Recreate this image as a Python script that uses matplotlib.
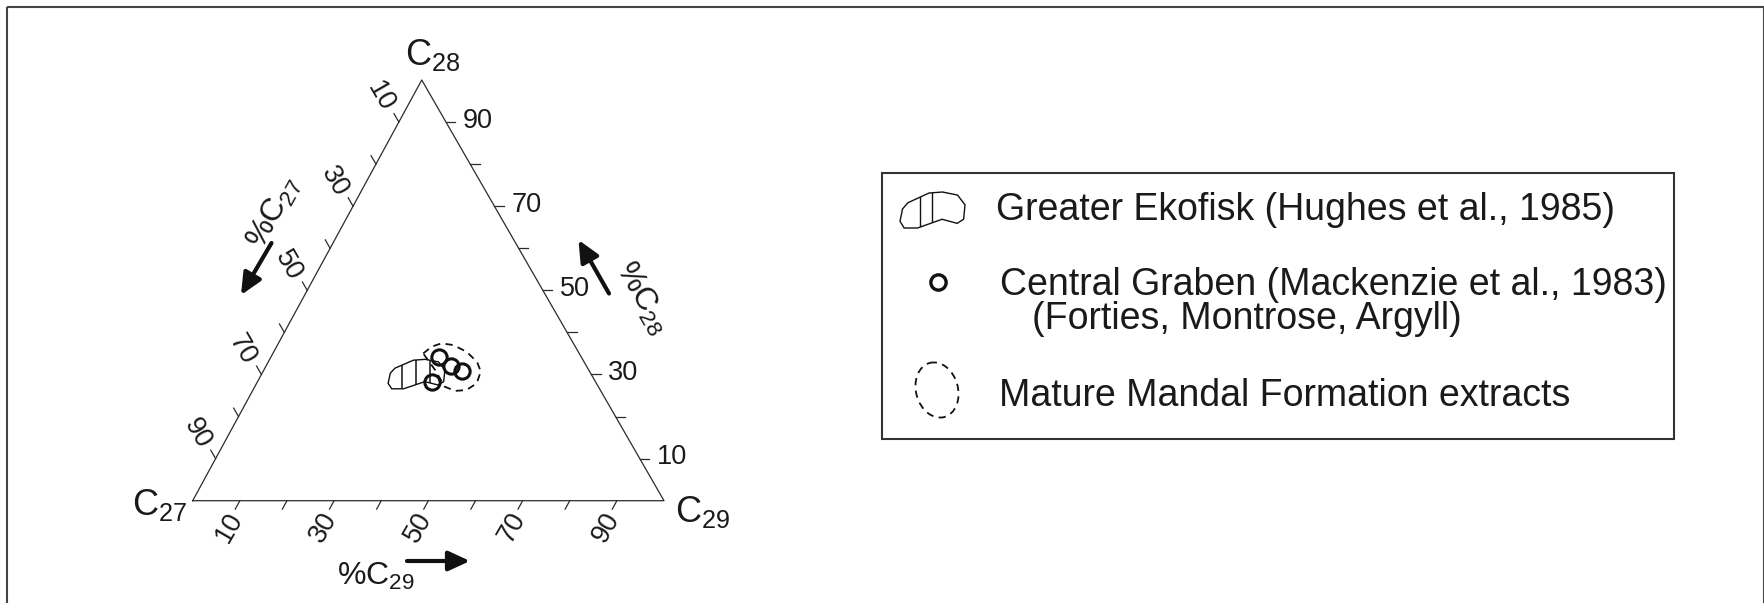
import numpy as np
import matplotlib
matplotlib.use("Agg")
import matplotlib.pyplot as plt
from matplotlib.patches import Polygon, Rectangle, Ellipse

plt.rcParams['font.family'] = ['Liberation Sans', 'DejaVu Sans']
plt.rcParams['mathtext.fontset'] = 'custom'
plt.rcParams['mathtext.rm'] = 'Liberation Sans'
plt.rcParams['mathtext.it'] = 'Liberation Sans:italic'

# ---- data (percent C27 / C28 / C29 steranes) ----
# Central Graben oils (Mackenzie et al., 1983)
cg_c27 = [30.1, 26.9, 34.7, 28.9]
cg_c28 = [34.2, 30.9, 28.1, 31.9]
cg_c29 = [35.7, 42.2, 37.2, 39.2]

# Greater Ekofisk field outline (Hughes et al., 1985)
ek_c27 = [42.5, 40.9, 36.0, 33.4, 30.9, 30.5, 32.2, 33.8, 36.2, 41.6, 44.1, 44.2]
ek_c28 = [30.3, 31.5, 33.4, 33.6, 33.0, 31.1, 28.3, 27.5, 28.3, 26.6, 26.6, 27.9]
ek_c29 = [27.2, 27.6, 30.6, 33.0, 36.1, 38.4, 39.5, 38.7, 35.5, 31.8, 29.3, 27.9]

# Mature Mandal Formation extracts outline
mm_c27 = [33.1, 30.5, 28.0, 25.7, 23.7, 22.7, 23.1, 25.4, 28.4, 30.9, 32.6, 32.6]
mm_c28 = [35.0, 36.6, 37.4, 37.0, 35.4, 33.0, 30.7, 27.9, 26.3, 26.1, 27.1, 31.1]
mm_c29 = [31.9, 32.9, 34.6, 37.3, 40.9, 44.3, 46.2, 46.7, 45.3, 43.0, 40.3, 36.3]

tick_vals = [10, 20, 30, 40, 50, 60, 70, 80, 90]
label_vals = [10, 30, 50, 70, 90]

legend_labels = ['Greater Ekofisk (Hughes et al., 1985)',
                 'Central Graben (Mackenzie et al., 1983)',
                 '(Forties, Montrose, Argyll)',
                 'Mature Mandal Formation extracts']

SKEW = 0.486  # apex sits slightly left of centre in the original drawing


def tern(c27, c28, c29):
    c27, c28, c29 = (np.asarray(v, float) for v in (c27, c28, c29))
    tot = c27 + c28 + c29
    return (c29 + c28 * SKEW) * 100 / tot, c28 * 100 / tot


W, H = 1765, 603
fig = plt.figure(figsize=(W / 100, H / 100), dpi=100)

# overlay in pixel units for frame, legend, arrows
ov = fig.add_axes([0, 0, 1, 1])
ov.set_xlim(0, W)
ov.set_ylim(H, 0)
ov.axis('off')

# ternary axes
L, R, T, B = 192.7, 664.0, 80.0, 500.7
tx = fig.add_axes([L / W, (H - B) / H, (R - L) / W, (B - T) / H])
tx.set_xlim(0, 100)
tx.set_ylim(0, 100)
tx.axis('off')

line_col = '#2b2b2b'
txt_col = '#1a1a1a'

vx, vy = tern([100, 0, 0], [0, 100, 0], [0, 0, 100])
tx.plot(np.r_[vx, vx[0]], np.r_[vy, vy[0]], color=line_col, lw=0.9, clip_on=False)

apex = np.array([vx[1], vy[1]])
left = np.array([vx[0], vy[0]])
right = np.array([vx[2], vy[2]])

for v in tick_vals:
    # C27 axis (left edge), ticks parallel to right edge
    p = np.array(tern([v], [100 - v], [0])).ravel()
    q = p + 0.02 * (apex - right)
    tx.plot([p[0], q[0]], [p[1], q[1]], color=line_col, lw=0.9, clip_on=False)
    # C29 axis (base), ticks parallel to left edge
    p = np.array(tern([100 - v], [0], [v])).ravel()
    q = p + 0.02 * (left - apex)
    tx.plot([p[0], q[0]], [p[1], q[1]], color=line_col, lw=0.9, clip_on=False)
    # C28 axis (right edge), horizontal ticks
    p = np.array(tern([0], [v], [100 - v])).ravel()
    tx.plot([p[0], p[0] + 2.0], [p[1], p[1]], color=line_col, lw=0.9, clip_on=False)

fs_tick = 19.5
for v in label_vals:
    p = np.array(tern([v], [100 - v], [0])).ravel()
    tx.annotate(str(v), p, xytext=(-13.5, 18), textcoords='offset points',
                rotation=-60, ha='center', va='center', fontsize=fs_tick, color=txt_col)
    p = np.array(tern([100 - v], [0], [v])).ravel()
    tx.annotate(str(v), p, xytext=(-7.5, -19.5), textcoords='offset points',
                rotation=60, ha='center', va='center', fontsize=fs_tick, color=txt_col)
    p = np.array(tern([0], [v], [100 - v])).ravel()
    tx.annotate(str(v), p, xytext=(12.2, 1.0), textcoords='offset points',
                ha='left', va='center', fontsize=fs_tick, color=txt_col)

# Greater Ekofisk: hatched outline
ex, ey = tern(ek_c27, ek_c28, ek_c29)
ek_poly = Polygon(np.c_[ex, ey], closed=True, fill=False, ec='#111111', lw=1.0, zorder=3)
tx.add_patch(ek_poly)
for hx in np.arange(ex.min() + 3.0, ex.max() - 1.0, 2.9):
    hl, = tx.plot([hx, hx], [0, 100], color='#111111', lw=1.1, zorder=3)
    hl.set_clip_path(ek_poly)

# Mandal outline: dashed
mx, my = tern(mm_c27, mm_c28, mm_c29)
tx.add_patch(Polygon(np.c_[mx, my], closed=True, fill=False, ec='#111111',
                     lw=1.3, ls=(0, (4, 3)), joinstyle='round', zorder=3))

# Central Graben: open circles
cx, cy = tern(cg_c27, cg_c28, cg_c29)
tx.plot(cx, cy, 'o', ms=11, mfc='none', mec='#111111', mew=2.2, zorder=4, clip_on=False)

# vertex labels
fs_v = 26
ov.text(433, 65, r'$\mathrm{C_{28}}$', ha='center', va='baseline', fontsize=fs_v, color=txt_col)
ov.text(187, 515, r'$\mathrm{C_{27}}$', ha='right', va='baseline', fontsize=fs_v, color=txt_col)
ov.text(675, 522, r'$\mathrm{C_{29}}$', ha='left', va='baseline', fontsize=fs_v, color=txt_col)

# axis titles with arrows
fs_ax = 23
ov.text(274, 213, r'$\mathrm{\%C_{27}}$', ha='center', va='center', rotation=61,
        fontsize=fs_ax, color=txt_col)
ov.text(642, 298, r'$\mathrm{\%C_{28}}$', ha='center', va='center', rotation=-60,
        fontsize=fs_ax, color=txt_col)
ov.text(376, 585, r'$\mathrm{\%C_{29}}$', ha='center', va='baseline', fontsize=fs_ax, color=txt_col)

arr = dict(arrowstyle='-|>,head_length=0.65,head_width=0.3', lw=3.0, color='#111111',
           shrinkA=0, shrinkB=0, mutation_scale=20)
ov.annotate('', xy=(241, 295), xytext=(271.5, 243), arrowprops=arr)
ov.annotate('', xy=(578.5, 240), xytext=(609, 293.5), arrowprops=arr)
ov.annotate('', xy=(470, 561), xytext=(407, 561), arrowprops=arr)

# outer frame
ov.add_patch(Rectangle((7.3, 7.3), 1756.7, 700, fill=False, ec='#444444', lw=1.5))

# legend box
ov.add_patch(Rectangle((881.7, 173.3), 1674 - 881.7, 439.3 - 173.3, fill=False,
                       ec='#333333', lw=1.5))

# legend glyph: Ekofisk shape rescaled
gx = 900 + (ex - ex.min()) / (ex.max() - ex.min()) * 65
gy = 228 - (ey - ey.min()) / (ey.max() - ey.min()) * 36
g_poly = Polygon(np.c_[gx, gy], closed=True, fill=False, ec='#111111', lw=1.0)
ov.add_patch(g_poly)
for hx in np.arange(gx.min() + 20, gx.max() - 20, 12.5):
    hl, = ov.plot([hx, hx], [150, 250], color='#111111', lw=1.0)
    hl.set_clip_path(g_poly)

ov.plot([938], [281.7], 'o', ms=11, mfc='none', mec='#111111', mew=2.4)
ov.add_patch(Ellipse((937, 390), 42, 56, angle=-15, fill=False, ec='#111111',
                     lw=1.3, ls=(0, (4, 3))))

fs_leg = 27
ov.text(996, 220, legend_labels[0], ha='left', va='baseline', fontsize=fs_leg, color=txt_col)
ov.text(1000, 295, legend_labels[1], ha='left', va='baseline', fontsize=fs_leg, color=txt_col)
ov.text(1032, 329, legend_labels[2], ha='left', va='baseline', fontsize=fs_leg, color=txt_col)
ov.text(999, 406.5, legend_labels[3], ha='left', va='baseline', fontsize=fs_leg, color=txt_col)

fig.savefig('out.png', dpi=100)
